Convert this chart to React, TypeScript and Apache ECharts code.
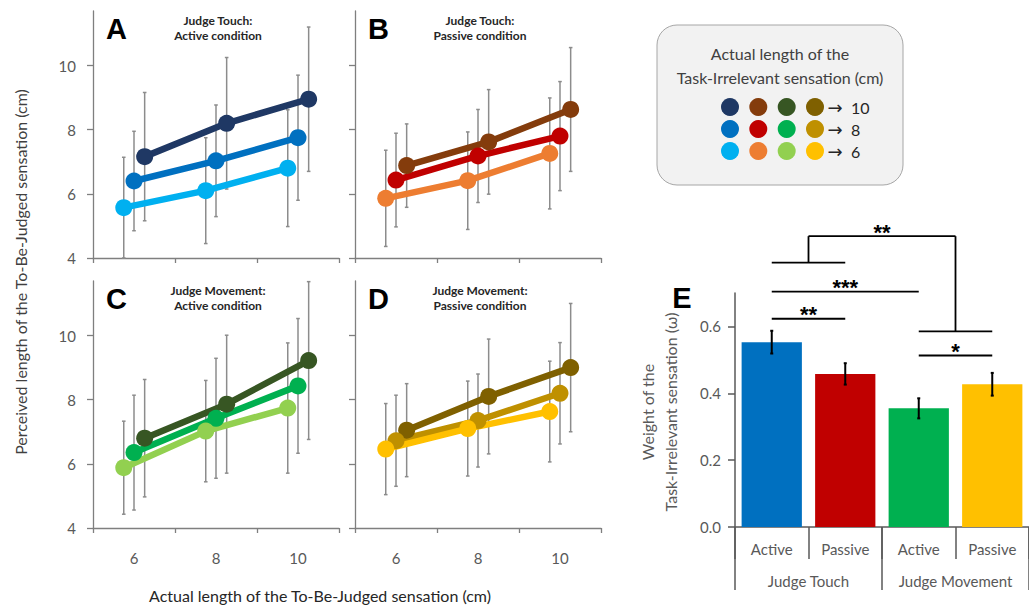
import React, { useEffect, useRef } from "react";
import * as echarts from "echarts";

const FONT = "Lato, 'Noto Sans', sans-serif";

// x categories: actual length of the to-be-judged sensation (cm)
const judgedLengths = [6, 8, 10];
// actual length of the task-irrelevant sensation (cm), series order
const irrelevantLengths = [10, 8, 6];
const perceivedTicks = [4, 6, 8, 10];
const judgedTickBounds = [5, 7, 9, 11];

// Panel A: Judge Touch, Active
const touchActive10 = [7.16, 8.2, 8.95];
const touchActive8 = [6.4, 7.03, 7.75];
const touchActive6 = [5.57, 6.1, 6.8];
const touchActive10Sd = [2.0, 2.05, 2.25];
const touchActive8Sd = [1.55, 1.74, 1.95];
const touchActive6Sd = [1.57, 1.65, 1.82];
const touchActiveColors = ["#1F3864", "#0070C0", "#00B0F0"];

// Panel B: Judge Touch, Passive
const touchPassive10 = [6.88, 7.62, 8.63];
const touchPassive8 = [6.43, 7.18, 7.8];
const touchPassive6 = [5.86, 6.41, 7.26];
const touchPassive10Sd = [1.3, 1.63, 1.93];
const touchPassive8Sd = [1.46, 1.45, 1.7];
const touchPassive6Sd = [1.5, 1.52, 1.73];
const touchPassiveColors = ["#843C0C", "#C00000", "#ED7D31"];

// Panel C: Judge Movement, Active
const moveActive10 = [6.8, 7.86, 9.22];
const moveActive8 = [6.35, 7.42, 8.43];
const moveActive6 = [5.88, 7.02, 7.74];
const moveActive10Sd = [1.83, 2.15, 2.46];
const moveActive8Sd = [1.79, 1.87, 2.1];
const moveActive6Sd = [1.45, 1.58, 2.03];
const moveActiveColors = ["#375623", "#00B050", "#92D050"];

// Panel D: Judge Movement, Passive
const movePassive10 = [7.05, 8.1, 9.0];
const movePassive8 = [6.72, 7.35, 8.2];
const movePassive6 = [6.46, 7.1, 7.63];
const movePassive10Sd = [1.45, 1.79, 2.0];
const movePassive8Sd = [1.42, 1.45, 1.58];
const movePassive6Sd = [1.42, 1.48, 1.57];
const movePassiveColors = ["#7F6000", "#BF9000", "#FFC000"];

// Panel E: weights
const barKeys = ["touchActive", "touchPassive", "moveActive", "movePassive"];
const barLabels = ["Active", "Passive", "Active", "Passive"];
const groupLabels = ["Judge Touch", "Judge Movement"];
const weights = [0.553, 0.458, 0.355, 0.427];
const weightErr = [0.034, 0.032, 0.03, 0.034];
const barColors = ["#0070C0", "#C00000", "#00B050", "#FFC000"];
const weightTicks = [0, 0.2, 0.4, 0.6];

// significance annotations (bar indices, level in weight units)
const pairBrackets = [
  { from: 0, to: 1, level: 0.623, stars: "**" },
  { from: 0, to: 2, level: 0.704, stars: "***" },
  { from: 2, to: 3, level: 0.513, stars: "*" },
];
const groupBracket = { leftLevel: 0.791, rightLevel: 0.585, topLevel: 0.87, stars: "**" };

const panels = [
  { letter: "A", title: ["Judge Touch:", "Active condition"], means: [touchActive10, touchActive8, touchActive6], sds: [touchActive10Sd, touchActive8Sd, touchActive6Sd], colors: touchActiveColors },
  { letter: "B", title: ["Judge Touch:", "Passive condition"], means: [touchPassive10, touchPassive8, touchPassive6], sds: [touchPassive10Sd, touchPassive8Sd, touchPassive6Sd], colors: touchPassiveColors },
  { letter: "C", title: ["Judge Movement:", "Active condition"], means: [moveActive10, moveActive8, moveActive6], sds: [moveActive10Sd, moveActive8Sd, moveActive6Sd], colors: moveActiveColors },
  { letter: "D", title: ["Judge Movement:", "Passive condition"], means: [movePassive10, movePassive8, movePassive6], sds: [movePassive10Sd, movePassive8Sd, movePassive6Sd], colors: movePassiveColors },
];

// horizontal display offset of each task-irrelevant level inside a category
const jitter = [0.26, 0, -0.25];

const grids = [
  { left: 93, top: 11, width: 246, height: 247 },
  { left: 355, top: 11, width: 246, height: 247 },
  { left: 93, top: 281, width: 246, height: 247 },
  { left: 355, top: 281, width: 246, height: 247 },
  { left: 735, top: 293, width: 300, height: 234 },
];

const AXIS_GREY = "#7f7f7f";
const LABEL_GREY = "#595959";

function errorRender(color: string, width: number, cap: number) {
  return (params: any, api: any) => {
    const x = api.value(0);
    const lo = api.coord([x, api.value(1)]);
    const hi = api.coord([x, api.value(2)]);
    const st = { stroke: color, lineWidth: width };
    return {
      type: "group",
      children: [
        { type: "line", shape: { x1: lo[0], y1: lo[1], x2: hi[0], y2: hi[1] }, style: st },
        { type: "line", shape: { x1: lo[0] - cap, y1: lo[1], x2: lo[0] + cap, y2: lo[1] }, style: st },
        { type: "line", shape: { x1: hi[0] - cap, y1: hi[1], x2: hi[0] + cap, y2: hi[1] }, style: st },
      ],
    };
  };
}

function bracketRender(params: any, api: any) {
  const px = (idx: number, v: number) => {
    const a = api.coord([0, v]);
    const b = api.coord([1, v]);
    return [a[0] + (b[0] - a[0]) * idx, a[1]];
  };
  const st = { stroke: "#000", lineWidth: 1.8 };
  const children: any[] = [];
  const seg = (x1: number, y1: number, x2: number, y2: number) => {
    const p1 = px(x1, y1);
    const p2 = px(x2, y2);
    children.push({ type: "line", shape: { x1: p1[0], y1: p1[1], x2: p2[0], y2: p2[1] }, style: st });
  };
  const star = (x: number, v: number, s: string) => {
    const p = px(x, v);
    children.push({
      type: "text",
      style: {
        text: s, x: p[0], y: p[1] - 4,
        textAlign: "center", textVerticalAlign: "middle", align: "center", verticalAlign: "middle",
        font: "bold 22px 'Liberation Sans', sans-serif", fill: "#000",
      },
    });
  };
  pairBrackets.forEach((b) => {
    seg(b.from, b.level, b.to, b.level);
    star((b.from + b.to) / 2, b.level, b.stars);
  });
  const g = groupBracket;
  seg(0, g.leftLevel, 1, g.leftLevel);
  seg(2, g.rightLevel, 3, g.rightLevel);
  seg(0.5, g.leftLevel, 0.5, g.topLevel);
  seg(0.5, g.topLevel, 2.5, g.topLevel);
  seg(2.5, g.topLevel, 2.5, g.rightLevel);
  star(1.5, g.topLevel, g.stars);
  return { type: "group", children };
}

function txt(text: string, x: number, y: number, font: string, fill: string, align = "center", rotation = 0) {
  return {
    type: "text",
    x, y, rotation,
    style: {
      text, x: 0, y: 0, font, fill,
      textAlign: align, textVerticalAlign: "middle", align, verticalAlign: "middle",
    },
    silent: true,
  };
}

export default function App() {
  const ref = useRef<HTMLDivElement>(null);
  useEffect(() => {
    document.body.style.margin = "0";
    if (!ref.current) return;
    const chart = echarts.init(ref.current, undefined, { renderer: "svg" });

    const xAxis: any[] = [];
    const yAxis: any[] = [];
    const series: any[] = [];

    panels.forEach((p, i) => {
      xAxis.push({
        type: "value", gridIndex: i, min: 5, max: 11,
        axisLine: { show: true, onZero: false, lineStyle: { color: AXIS_GREY, width: 1.3 } },
        axisTick: { show: true, customValues: judgedTickBounds, length: 5, lineStyle: { color: AXIS_GREY, width: 1.3 } },
        axisLabel: { show: i >= 2, customValues: judgedLengths, margin: 22, fontSize: 15, color: LABEL_GREY, fontFamily: FONT },
        splitLine: { show: false },
      });
      yAxis.push({
        type: "value", gridIndex: i, min: 4, max: 11.7,
        axisLine: { show: true, onZero: false, lineStyle: { color: AXIS_GREY, width: 1.3 } },
        axisTick: { show: true, customValues: perceivedTicks, length: 6, lineStyle: { color: AXIS_GREY, width: 1.3 } },
        axisLabel: { show: i % 2 === 0, customValues: perceivedTicks, margin: 17, fontSize: 15, color: LABEL_GREY, fontFamily: FONT },
        splitLine: { show: false },
      });
      irrelevantLengths.forEach((len, j) => {
        series.push({
          type: "custom", name: `err-${p.letter}-${len}`, xAxisIndex: i, yAxisIndex: i,
          data: judgedLengths.map((x, k) => [x + jitter[j], p.means[j][k] - p.sds[j][k], p.means[j][k] + p.sds[j][k]]),
          encode: { x: 0, y: [1, 2] },
          renderItem: errorRender("#8c8c8c", 1.5, 1.8),
          clip: false, z: 1, silent: true,
        });
      });
      irrelevantLengths.forEach((len, j) => {
        series.push({
          type: "line", name: `${p.letter}-${len}`, xAxisIndex: i, yAxisIndex: i,
          data: judgedLengths.map((x, k) => [x + jitter[j], p.means[j][k]]),
          lineStyle: { width: 6.5, color: p.colors[j] },
          itemStyle: { color: p.colors[j] },
          symbol: "circle", symbolSize: 17, z: 2, silent: true,
        });
      });
    });

    xAxis.push({
      type: "category", gridIndex: 4, data: barKeys, position: "bottom",
      axisLine: { show: true, lineStyle: { color: LABEL_GREY, width: 1.5 } },
      axisTick: { show: true, length: 32, interval: 0, lineStyle: { color: LABEL_GREY, width: 1.5 } },
      axisLabel: { interval: 0, formatter: (_v: string, idx: number) => barLabels[idx], margin: 14, fontSize: 15, color: LABEL_GREY, fontFamily: FONT },
    });
    xAxis.push({
      type: "category", gridIndex: 4, data: groupLabels, position: "bottom",
      axisLine: { show: false },
      axisTick: { show: true, length: 63, interval: 0, lineStyle: { color: LABEL_GREY, width: 1.5 } },
      axisLabel: { interval: 0, margin: 46, fontSize: 15, color: LABEL_GREY, fontFamily: FONT },
    });
    yAxis.push({
      type: "value", gridIndex: 4, min: 0, max: 0.7,
      axisLine: { show: true, lineStyle: { color: LABEL_GREY, width: 1.5 } },
      axisTick: { show: true, customValues: weightTicks, length: 7, lineStyle: { color: LABEL_GREY, width: 1.5 } },
      axisLabel: { customValues: weightTicks, formatter: (v: number) => v.toFixed(1), margin: 14, fontSize: 15, color: LABEL_GREY, fontFamily: FONT },
      splitLine: { show: false },
    });

    series.push({
      type: "bar", name: "weights", xAxisIndex: 4, yAxisIndex: 4, barWidth: "82%",
      data: weights.map((v, i) => ({ value: v, itemStyle: { color: barColors[i] } })),
      silent: true, z: 2,
    });
    series.push({
      type: "custom", name: "weight-err", xAxisIndex: 4, yAxisIndex: 4,
      data: weights.map((v, i) => [i, v - weightErr[i], v + weightErr[i]]),
      encode: { x: 0, y: [1, 2] },
      renderItem: errorRender("#000", 2, 1.5),
      clip: false, z: 3, silent: true,
    });
    series.push({
      type: "custom", name: "significance", xAxisIndex: 4, yAxisIndex: 4,
      data: [[0, 0]],
      renderItem: bracketRender,
      clip: false, z: 4, silent: true,
    });

    const graphics: any[] = [];
    panels.forEach((p, i) => {
      const g = grids[i];
      graphics.push(txt(p.letter, g.left + 13, g.top + 18, "bold 29px 'Liberation Sans', sans-serif", "#000", "left"));
      graphics.push(txt(p.title[0], g.left + 125, g.top + 9, `bold 12px ${FONT}`, "#262626"));
      graphics.push(txt(p.title[1], g.left + 125, g.top + 24, `bold 12px ${FONT}`, "#262626"));
    });
    graphics.push(txt("E", 682, 298, "bold 29px 'Liberation Sans', sans-serif", "#000", "center"));
    graphics.push(txt("Actual length of the To-Be-Judged sensation (cm)", 320, 595, `16px ${FONT}`, "#262626"));
    graphics.push(txt("Perceived length of the To-Be-Judged sensation (cm)", 20, 272, `16px ${FONT}`, "#404040", "center", Math.PI / 2));
    graphics.push(txt("Weight of the", 647, 412, `16px ${FONT}`, LABEL_GREY, "center", Math.PI / 2));
    graphics.push(txt("Task-Irrelevant sensation (\u03c9)", 670, 412, `16px ${FONT}`, LABEL_GREY, "center", Math.PI / 2));

    // legend box
    graphics.push({
      type: "rect", shape: { x: 657, y: 25, width: 246, height: 160, r: 20 },
      style: { fill: "#f2f2f2", stroke: "#a6a6a6", lineWidth: 1 }, silent: true,
    });
    graphics.push(txt("Actual length of the", 780, 53, `16px ${FONT}`, "#404040"));
    graphics.push(txt("Task-Irrelevant sensation (cm)", 780, 77, `16px ${FONT}`, "#404040"));
    const colX = [730, 758.3, 786.7, 815];
    const rowY = [107, 129, 151];
    panels.forEach((p, c) => {
      irrelevantLengths.forEach((_len, r) => {
        graphics.push({ type: "circle", shape: { cx: colX[c], cy: rowY[r], r: 9 }, style: { fill: p.colors[r] }, silent: true });
      });
    });
    irrelevantLengths.forEach((len, r) => {
      graphics.push(txt("\u2192", 835, rowY[r], `18px 'DejaVu Sans', sans-serif`, "#262626"));
      graphics.push(txt(String(len), 851, rowY[r], `16px ${FONT}`, "#262626", "left"));
    });

    chart.setOption({
      animation: false,
      grid: grids,
      xAxis,
      yAxis,
      series,
      graphic: { elements: graphics },
    });
    return () => chart.dispose();
  }, []);
  return <div ref={ref} style={{ width: 1029, height: 609 }} />;
}
